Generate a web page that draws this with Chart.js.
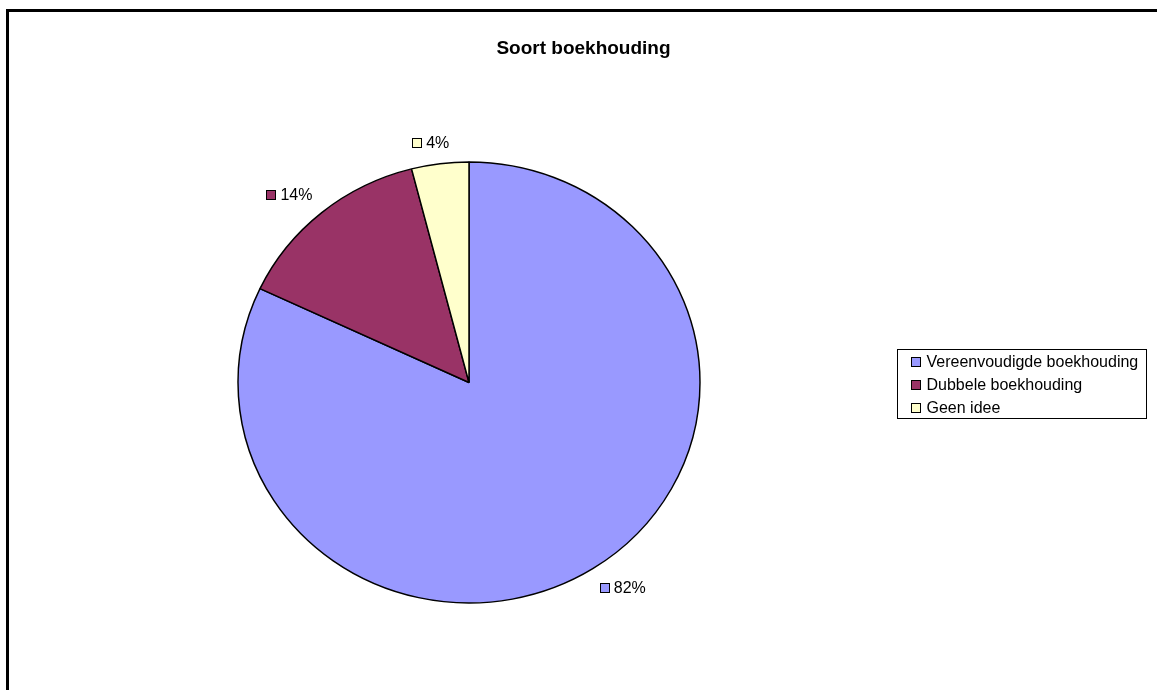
<!DOCTYPE html>
<html><head><meta charset="utf-8">
<script src="https://cdn.jsdelivr.net/npm/chart.js@4"></script>
<style>html,body{margin:0;padding:0;background:#fff;overflow:hidden}canvas{display:block}</style>
</head><body>
<canvas id="c" width="1157" height="690"></canvas>
<script>
const chartTitle = 'Soort boekhouding';
const categories = ['Vereenvoudigde boekhouding', 'Dubbele boekhouding', 'Geen idee'];
const shares = [82, 14, 4];
const sliceColors = ['#9999FF', '#993366', '#FFFFCC'];

const FONT = '"Liberation Sans", Arial, sans-serif';
const X_STRETCH = 231 / 220.5;

function swatch(ctx, x, y, size, color) {
  ctx.fillStyle = color;
  ctx.fillRect(Math.round(x), Math.round(y), size, size);
  ctx.strokeStyle = '#000';
  ctx.lineWidth = 1;
  ctx.strokeRect(Math.round(x) + 0.5, Math.round(y) + 0.5, size - 1, size - 1);
}

const stretchPlugin = {
  id: 'stretch',
  beforeDatasetsDraw(chart) {
    const arc = chart.getDatasetMeta(0).data[0];
    const ctx = chart.ctx;
    ctx.save();
    ctx.translate(arc.x, arc.y);
    ctx.scale(X_STRETCH, 1);
    ctx.translate(-arc.x, -arc.y);
  },
  afterDatasetsDraw(chart) { chart.ctx.restore(); }
};

const overlayPlugin = {
  id: 'overlay',
  afterDraw(chart) {
    const ctx = chart.ctx;
    ctx.save();
    // frame
    ctx.fillStyle = '#000';
    ctx.fillRect(6, 9, chart.width, 3);
    ctx.fillRect(6, 9, 3, chart.height);

    // title
    ctx.font = `bold 19px ${FONT}`;
    ctx.textAlign = 'center';
    ctx.textBaseline = 'alphabetic';
    ctx.fillStyle = '#000';
    ctx.fillText(chartTitle, 583.5, 54);

    // data labels
    ctx.textAlign = 'left';
    ctx.font = `16px ${FONT}`;
    const meta = chart.getDatasetMeta(0);
    const total = shares.reduce((a, b) => a + b, 0);
    const clamp = v => Math.max(-1, Math.min(1, v));
    meta.data.forEach((arc, i) => {
      const mid = (arc.startAngle + arc.endAngle) / 2;
      const dx = Math.cos(mid), dy = Math.sin(mid);
      const r = arc.outerRadius;
      const ex = arc.x + dx * r * X_STRETCH, ey = arc.y + dy * r;
      const text = Math.round(shares[i] / total * 100) + '%';
      const tw = ctx.measureText(text).width;
      const w = 15 + tw, h = 16, g = 13;
      const cx = ex + dx * g + (w / 2) * clamp(dx * 3);
      const cy = ey + dy * g + (h / 2) * clamp(dy * 3);
      const left = cx - w / 2;
      const base = cy + 5;
      swatch(ctx, left, base - 10, 10, sliceColors[i]);
      ctx.fillStyle = '#000';
      ctx.fillText(text, left + 14, base);
    });

    // legend
    ctx.strokeStyle = '#000';
    ctx.lineWidth = 1;
    ctx.strokeRect(897.5, 349.5, 249, 69);
    categories.forEach((name, i) => {
      const base = 367 + i * 22.8;
      swatch(ctx, 911, Math.round(base) - 10, 10, sliceColors[i]);
      ctx.fillStyle = '#000';
      ctx.fillText(name, 926.5, base);
    });
    ctx.restore();
  }
};

new Chart(document.getElementById('c'), {
  type: 'pie',
  data: {
    labels: categories,
    datasets: [{
      data: shares,
      backgroundColor: sliceColors,
      borderColor: '#000',
      borderWidth: 1.4,
      radius: 220.5
    }]
  },
  options: {
    responsive: false,
    animation: false,
    events: [],
    layout: { padding: { left: 0, right: 219, top: 75, bottom: 0 } },
    plugins: { legend: { display: false }, title: { display: false }, tooltip: { enabled: false } }
  },
  plugins: [stretchPlugin, overlayPlugin]
});
</script>
</body></html>
